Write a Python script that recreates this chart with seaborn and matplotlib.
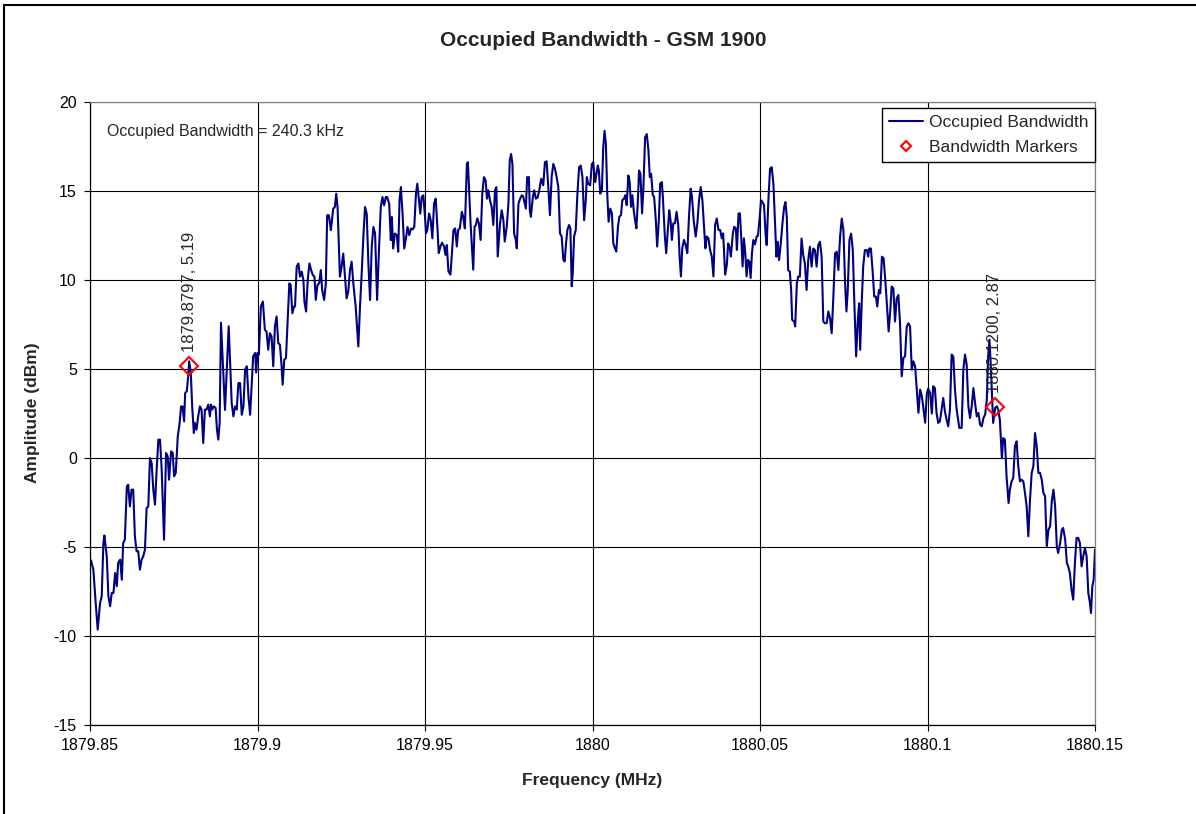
import matplotlib
matplotlib.use('Agg')
from matplotlib import pyplot as plt
from matplotlib.lines import Line2D
import numpy as np
import pandas as pd
import seaborn as sns

# trace (MHz, dBm)
freq = [
    1879.8500, 1879.8503, 1879.8510, 1879.8517, 1879.8523, 1879.8530, 1879.8535, 1879.8540, 1879.8543, 1879.8550,
    1879.8555, 1879.8560, 1879.8565, 1879.8570, 1879.8575, 1879.8580, 1879.8584, 1879.8590, 1879.8595, 1879.8599,
    1879.8604, 1879.8610, 1879.8614, 1879.8619, 1879.8624, 1879.8629, 1879.8634, 1879.8639, 1879.8644, 1879.8649,
    1879.8654, 1879.8659, 1879.8664, 1879.8669, 1879.8674, 1879.8679, 1879.8684, 1879.8689, 1879.8694, 1879.8699,
    1879.8704, 1879.8709, 1879.8714, 1879.8721, 1879.8727, 1879.8732, 1879.8736, 1879.8742, 1879.8747, 1879.8751,
    1879.8756, 1879.8762, 1879.8767, 1879.8772, 1879.8776, 1879.8781, 1879.8784, 1879.8789, 1879.8793, 1879.8796,
    1879.8801, 1879.8805, 1879.8810, 1879.8813, 1879.8818, 1879.8823, 1879.8828, 1879.8833, 1879.8838, 1879.8843,
    1879.8848, 1879.8853, 1879.8858, 1879.8861, 1879.8865, 1879.8869, 1879.8875, 1879.8879, 1879.8883, 1879.8887,
    1879.8891, 1879.8903, 1879.8914, 1879.8923, 1879.8928, 1879.8933, 1879.8938, 1879.8943, 1879.8948, 1879.8953,
    1879.8958, 1879.8963, 1879.8968, 1879.8973, 1879.8978, 1879.8983, 1879.8987, 1879.8993, 1879.8996, 1879.9000,
    1879.9004, 1879.9010, 1879.9016, 1879.9022, 1879.9027, 1879.9032, 1879.9037, 1879.9042, 1879.9047, 1879.9052,
    1879.9057, 1879.9062, 1879.9067, 1879.9072, 1879.9075, 1879.9080, 1879.9085, 1879.9090, 1879.9095, 1879.9099,
    1879.9104, 1879.9109, 1879.9112, 1879.9117, 1879.9122, 1879.9127, 1879.9132, 1879.9137, 1879.9140, 1879.9145,
    1879.9150, 1879.9155, 1879.9160, 1879.9165, 1879.9170, 1879.9174, 1879.9179, 1879.9184, 1879.9189, 1879.9193,
    1879.9199, 1879.9204, 1879.9208, 1879.9213, 1879.9219, 1879.9226, 1879.9231, 1879.9235, 1879.9239, 1879.9246,
    1879.9251, 1879.9256, 1879.9261, 1879.9266, 1879.9271, 1879.9276, 1879.9281, 1879.9286, 1879.9293, 1879.9301,
    1879.9306, 1879.9311, 1879.9316, 1879.9321, 1879.9326, 1879.9331, 1879.9336, 1879.9341, 1879.9346, 1879.9351,
    1879.9357, 1879.9363, 1879.9368, 1879.9373, 1879.9378, 1879.9383, 1879.9387, 1879.9393, 1879.9398, 1879.9401,
    1879.9405, 1879.9410, 1879.9416, 1879.9420, 1879.9424, 1879.9428, 1879.9433, 1879.9438, 1879.9443, 1879.9448,
    1879.9453, 1879.9458, 1879.9463, 1879.9468, 1879.9473, 1879.9477, 1879.9482, 1879.9486, 1879.9490, 1879.9495,
    1879.9500, 1879.9503, 1879.9507, 1879.9512, 1879.9517, 1879.9522, 1879.9527, 1879.9532, 1879.9537, 1879.9541,
    1879.9546, 1879.9551, 1879.9557, 1879.9561, 1879.9565, 1879.9570, 1879.9576, 1879.9581, 1879.9585, 1879.9590,
    1879.9595, 1879.9599, 1879.9604, 1879.9610, 1879.9614, 1879.9619, 1879.9625, 1879.9628, 1879.9632, 1879.9636,
    1879.9640, 1879.9644, 1879.9648, 1879.9652, 1879.9656, 1879.9661, 1879.9666, 1879.9671, 1879.9676, 1879.9681,
    1879.9685, 1879.9689, 1879.9694, 1879.9699, 1879.9704, 1879.9709, 1879.9713, 1879.9717, 1879.9724, 1879.9729,
    1879.9734, 1879.9738, 1879.9744, 1879.9749, 1879.9753, 1879.9757, 1879.9761, 1879.9766, 1879.9771, 1879.9774,
    1879.9779, 1879.9784, 1879.9789, 1879.9793, 1879.9801, 1879.9805, 1879.9810, 1879.9813, 1879.9816, 1879.9822,
    1879.9826, 1879.9831, 1879.9836, 1879.9841, 1879.9847, 1879.9853, 1879.9858, 1879.9863, 1879.9868, 1879.9873,
    1879.9878, 1879.9883, 1879.9888, 1879.9893, 1879.9898, 1879.9903, 1879.9908, 1879.9913, 1879.9917, 1879.9921,
    1879.9925, 1879.9930, 1879.9934, 1879.9938, 1879.9941, 1879.9945, 1879.9950, 1879.9955, 1879.9960, 1879.9965,
    1879.9970, 1879.9975, 1879.9980, 1879.9983, 1879.9987, 1879.9993, 1879.9998, 1880.0002, 1880.0008, 1880.0011,
    1880.0016, 1880.0019, 1880.0023, 1880.0028, 1880.0032, 1880.0036, 1880.0040, 1880.0044, 1880.0048, 1880.0053,
    1880.0058, 1880.0062, 1880.0067, 1880.0071, 1880.0076, 1880.0080, 1880.0085, 1880.0089, 1880.0094, 1880.0098,
    1880.0102, 1880.0107, 1880.0111, 1880.0115, 1880.0119, 1880.0123, 1880.0127, 1880.0131, 1880.0135, 1880.0139,
    1880.0143, 1880.0148, 1880.0152, 1880.0157, 1880.0162, 1880.0167, 1880.0171, 1880.0175, 1880.0180, 1880.0184,
    1880.0189, 1880.0193, 1880.0198, 1880.0202, 1880.0207, 1880.0210, 1880.0216, 1880.0220, 1880.0225, 1880.0229,
    1880.0233, 1880.0237, 1880.0241, 1880.0246, 1880.0251, 1880.0256, 1880.0260, 1880.0264, 1880.0268, 1880.0273,
    1880.0278, 1880.0283, 1880.0288, 1880.0293, 1880.0297, 1880.0302, 1880.0308, 1880.0313, 1880.0318, 1880.0323,
    1880.0328, 1880.0333, 1880.0337, 1880.0341, 1880.0346, 1880.0351, 1880.0356, 1880.0361, 1880.0366, 1880.0371,
    1880.0376, 1880.0381, 1880.0386, 1880.0390, 1880.0396, 1880.0401, 1880.0405, 1880.0410, 1880.0413, 1880.0419,
    1880.0423, 1880.0428, 1880.0431, 1880.0436, 1880.0440, 1880.0445, 1880.0448, 1880.0452, 1880.0456, 1880.0460,
    1880.0464, 1880.0468, 1880.0472, 1880.0476, 1880.0480, 1880.0485, 1880.0490, 1880.0494, 1880.0499, 1880.0503,
    1880.0507, 1880.0512, 1880.0517, 1880.0520, 1880.0525, 1880.0530, 1880.0535, 1880.0540, 1880.0545, 1880.0549,
    1880.0553, 1880.0557, 1880.0562, 1880.0567, 1880.0572, 1880.0576, 1880.0580, 1880.0584, 1880.0589, 1880.0593,
    1880.0596, 1880.0602, 1880.0605, 1880.0610, 1880.0614, 1880.0619, 1880.0624, 1880.0629, 1880.0634, 1880.0639,
    1880.0644, 1880.0649, 1880.0654, 1880.0659, 1880.0664, 1880.0669, 1880.0674, 1880.0679, 1880.0684, 1880.0689,
    1880.0694, 1880.0699, 1880.0704, 1880.0709, 1880.0714, 1880.0719, 1880.0724, 1880.0729, 1880.0734, 1880.0739,
    1880.0744, 1880.0749, 1880.0754, 1880.0758, 1880.0762, 1880.0767, 1880.0772, 1880.0777, 1880.0782, 1880.0787,
    1880.0792, 1880.0796, 1880.0799, 1880.0804, 1880.0808, 1880.0813, 1880.0819, 1880.0823, 1880.0826, 1880.0831,
    1880.0836, 1880.0841, 1880.0846, 1880.0850, 1880.0855, 1880.0859, 1880.0864, 1880.0869, 1880.0874, 1880.0879,
    1880.0884, 1880.0889, 1880.0893, 1880.0898, 1880.0903, 1880.0908, 1880.0913, 1880.0918, 1880.0923, 1880.0928,
    1880.0933, 1880.0938, 1880.0943, 1880.0948, 1880.0953, 1880.0958, 1880.0963, 1880.0968, 1880.0973, 1880.0978,
    1880.0983, 1880.0987, 1880.0993, 1880.0998, 1880.1002, 1880.1008, 1880.1013, 1880.1017, 1880.1022, 1880.1027,
    1880.1032, 1880.1037, 1880.1042, 1880.1047, 1880.1052, 1880.1057, 1880.1062, 1880.1067, 1880.1072, 1880.1077,
    1880.1082, 1880.1087, 1880.1095, 1880.1102, 1880.1107, 1880.1112, 1880.1117, 1880.1122, 1880.1127, 1880.1132,
    1880.1137, 1880.1142, 1880.1147, 1880.1152, 1880.1157, 1880.1162, 1880.1167, 1880.1172, 1880.1177, 1880.1181,
    1880.1185, 1880.1189, 1880.1193, 1880.1196, 1880.1202, 1880.1207, 1880.1211, 1880.1216, 1880.1222, 1880.1226,
    1880.1231, 1880.1236, 1880.1242, 1880.1246, 1880.1251, 1880.1256, 1880.1261, 1880.1266, 1880.1271, 1880.1276,
    1880.1281, 1880.1286, 1880.1291, 1880.1296, 1880.1301, 1880.1306, 1880.1311, 1880.1316, 1880.1321, 1880.1326,
    1880.1331, 1880.1336, 1880.1341, 1880.1346, 1880.1351, 1880.1356, 1880.1361, 1880.1366, 1880.1371, 1880.1376,
    1880.1381, 1880.1386, 1880.1390, 1880.1396, 1880.1401, 1880.1405, 1880.1411, 1880.1416, 1880.1420, 1880.1425,
    1880.1430, 1880.1435, 1880.1440, 1880.1445, 1880.1450, 1880.1455, 1880.1460, 1880.1465, 1880.1470, 1880.1475,
    1880.1480, 1880.1485, 1880.1488, 1880.1492, 1880.1496, 1880.1500,
]
amplitude = [
    -5.71, -5.75, -6.27, -8.15, -9.64, -8.15, -7.77, -4.78, -4.35, -5.52,
    -7.77, -8.33, -7.58, -7.58, -6.46, -7.21, -5.90, -5.71, -6.84, -4.78,
    -4.59, -1.59, -1.50, -2.72, -1.78, -1.78, -4.40, -5.24, -5.24, -6.27,
    -5.71, -5.52, -5.15, -2.81, -2.72, 0.00, -0.28, -1.78, -2.62, -0.66,
    1.03, 1.03, -0.66, -4.59, 0.28, 0.09, -1.22, 0.37, 0.28, -1.03,
    -0.84, 1.22, 1.87, 2.90, 2.90, 2.06, 3.65, 3.75, 4.59, 5.43,
    4.78, 2.90, 1.40, 1.97, 1.59, 2.34, 2.90, 2.72, 0.84, 2.72,
    2.72, 3.00, 2.34, 3.00, 2.72, 2.90, 2.81, 1.59, 1.03, 1.97,
    7.60, 2.70, 7.40, 3.09, 2.34, 2.90, 2.72, 4.21, 4.21, 2.43,
    2.90, 4.96, 5.15, 3.46, 2.43, 4.21, 5.71, 5.90, 4.80, 5.90,
    5.80, 8.51, 8.79, 7.20, 7.10, 6.08, 7.01, 6.83, 5.15, 7.39,
    7.95, 6.46, 6.36, 5.15, 4.12, 5.52, 5.62, 7.76, 9.81, 9.72,
    8.13, 8.51, 8.51, 10.75, 10.93, 10.19, 10.47, 10.00, 8.79, 8.23,
    10.00, 10.93, 10.56, 10.28, 10.19, 8.88, 9.72, 9.81, 10.56, 9.44,
    8.88, 9.81, 13.64, 13.64, 12.80, 14.01, 14.10, 14.85, 14.10, 10.19,
    10.75, 11.49, 10.19, 8.97, 9.35, 10.56, 11.03, 9.81, 8.51, 6.27,
    8.51, 10.37, 12.43, 14.10, 13.73, 10.93, 8.88, 11.87, 12.98, 12.61,
    8.88, 11.87, 14.10, 14.66, 14.20, 14.66, 14.66, 14.29, 12.24, 13.54,
    11.77, 12.61, 12.52, 11.59, 14.48, 15.22, 13.73, 11.77, 12.33, 12.98,
    12.52, 12.89, 12.84, 12.98, 14.85, 15.41, 14.48, 13.73, 14.66, 14.76,
    13.54, 12.62, 12.81, 13.74, 13.36, 12.34, 14.29, 14.57, 12.99, 11.51,
    11.88, 12.10, 11.88, 11.41, 11.97, 10.48, 10.30, 11.69, 12.81, 12.90,
    11.88, 12.81, 12.90, 13.83, 13.55, 12.90, 16.52, 16.62, 14.85, 13.18,
    11.88, 10.58, 12.99, 13.09, 13.46, 13.18, 12.25, 14.85, 15.78, 15.59,
    14.57, 15.04, 14.48, 14.11, 13.09, 15.04, 15.22, 11.32, 13.18, 13.92,
    13.36, 12.16, 12.99, 14.29, 16.71, 17.08, 16.52, 12.62, 12.25, 11.78,
    14.29, 14.57, 14.76, 14.70, 14.01, 15.78, 15.78, 13.92, 13.55, 14.67,
    15.04, 14.57, 14.63, 15.04, 15.69, 15.32, 16.62, 16.67, 15.22, 13.64,
    15.78, 16.52, 16.25, 15.78, 15.22, 12.62, 12.44, 11.13, 11.04, 12.06,
    12.81, 13.09, 12.90, 9.65, 10.39, 12.44, 12.81, 14.85, 16.34, 16.43,
    15.78, 13.36, 14.48, 15.78, 15.41, 15.32, 16.50, 16.62, 15.50, 15.87,
    16.43, 16.15, 14.85, 15.04, 17.45, 18.38, 17.64, 14.85, 13.27, 14.01,
    13.74, 12.06, 11.78, 11.60, 12.99, 13.55, 13.64, 14.48, 14.57, 14.76,
    14.20, 15.87, 15.50, 14.11, 14.76, 13.92, 13.36, 12.90, 14.29, 16.15,
    15.97, 13.74, 15.22, 18.01, 18.20, 17.27, 15.78, 15.97, 14.76, 14.67,
    13.36, 11.88, 13.36, 15.41, 15.50, 14.67, 12.44, 11.51, 12.81, 13.92,
    13.36, 12.25, 13.18, 13.18, 13.83, 13.09, 11.32, 10.20, 11.78, 12.25,
    11.97, 11.51, 13.55, 15.13, 14.67, 13.36, 12.44, 13.18, 14.48, 15.22,
    14.48, 12.99, 11.78, 12.44, 12.34, 11.69, 11.32, 10.20, 13.09, 13.46,
    12.81, 12.81, 12.34, 12.62, 10.30, 10.86, 12.06, 11.78, 11.32, 12.62,
    12.99, 12.90, 11.69, 13.74, 13.74, 12.06, 10.76, 12.34, 11.51, 10.20,
    11.13, 11.04, 10.11, 11.51, 12.25, 12.00, 12.44, 12.50, 13.50, 14.48,
    14.40, 14.20, 12.50, 11.96, 14.48, 16.25, 16.34, 15.41, 13.17, 11.31,
    12.15, 11.12, 12.05, 13.17, 14.10, 14.38, 13.54, 10.56, 10.47, 9.44,
    7.76, 7.67, 7.39, 9.81, 10.19, 10.19, 12.33, 11.40, 10.93, 9.44,
    11.12, 11.87, 10.75, 11.77, 11.68, 10.75, 11.96, 12.15, 11.31, 7.67,
    7.57, 7.57, 8.23, 7.85, 7.01, 9.07, 11.49, 11.59, 10.56, 12.43,
    13.45, 12.80, 9.81, 8.23, 9.44, 12.24, 12.61, 11.68, 8.51, 5.71,
    7.76, 8.69, 6.08, 8.88, 10.75, 11.68, 11.68, 11.31, 11.77, 11.77,
    10.56, 9.07, 9.07, 8.51, 9.44, 9.25, 11.31, 11.21, 10.00, 8.51,
    7.11, 8.32, 9.63, 9.53, 7.67, 8.97, 9.16, 7.57, 4.59, 5.62,
    5.71, 7.39, 7.57, 7.39, 4.96, 5.43, 5.15, 3.84, 2.54, 3.84,
    3.47, 2.91, 1.98, 3.60, 3.90, 3.65, 2.50, 4.03, 3.93, 2.53,
    1.97, 2.06, 2.72, 3.37, 2.62, 2.15, 1.78, 2.72, 5.81, 5.71,
    3.84, 2.72, 1.69, 1.69, 4.96, 5.81, 5.24, 2.90, 2.25, 2.90,
    3.93, 3.09, 2.34, 2.53, 1.87, 1.78, 2.25, 2.43, 3.28, 5.71,
    6.65, 5.15, 3.28, 1.97, 2.81, 2.90, 2.72, 2.15, 0.00, 1.12,
    1.03, -1.03, -2.53, -1.78, -1.31, -1.12, 0.66, 0.94, -0.47, -1.31,
    -1.22, -1.31, -1.97, -2.72, -4.40, -2.34, -0.84, -0.47, 1.40, 0.66,
    -0.84, -0.84, -1.22, -1.97, -2.15, -4.96, -4.03, -3.84, -2.43, -1.78,
    -2.72, -4.96, -5.34, -4.78, -4.03, -3.93, -4.59, -5.90, -6.09, -6.46,
    -7.40, -7.96, -5.90, -4.49, -4.49, -4.78, -6.09, -5.52, -5.06, -5.52,
    -7.58, -8.15, -8.71, -7.21, -6.84, -5.15,
]

marker_freq = [1879.8797, 1880.1200]
marker_amp = [5.19, 2.87]
marker_labels = ['1879.8797, 5.19', '1880.1200, 2.87']

x_ticks = [1879.85, 1879.90, 1879.95, 1880.00, 1880.05, 1880.10, 1880.15]
x_tick_labels = ['1879.85', '1879.9', '1879.95', '1880', '1880.05', '1880.1', '1880.15']
y_ticks = [-15, -10, -5, 0, 5, 10, 15, 20]
y_tick_labels = ['-15', '-10', '-5', '0', '5', '10', '15', '20']

obw_note = 'Occupied Bandwidth = 240.3 kHz'

sns.set_style('white')
plt.rcParams['font.family'] = ['Liberation Sans', 'DejaVu Sans']

W, H = 1196, 814
trace = pd.DataFrame({'freq': freq, 'amp': amplitude})
marks = pd.DataFrame({'freq': marker_freq, 'amp': marker_amp})

fig = plt.figure(figsize=(W / 100, H / 100), dpi=100)
ax = fig.add_axes([90 / W, 1 - 725 / H, 1005 / W, 623 / H])

sns.lineplot(data=trace, x='freq', y='amp', ax=ax, color='#000080', lw=1.5,
             estimator=None, sort=False, label='Occupied Bandwidth')
sns.lineplot(data=marks, x='freq', y='amp', ax=ax, estimator=None, sort=False,
             marker='D', linestyle='', ms=9, mfc='none', mec='red', mew=1.5,
             label='Bandwidth Markers')

for fx, fy, txt in zip(marker_freq, marker_amp, marker_labels):
    ax.annotate(txt, (fx, fy), xytext=(0, 10), textcoords='offset points',
                rotation=90, ha='center', va='bottom', fontsize=12)

ax.text(0.017, 0.953, obw_note, transform=ax.transAxes, fontsize=11.5,
        ha='left', va='center')

ax.set_xlim(1879.85, 1880.15)
ax.set_ylim(-15, 20)
ax.set_xticks(x_ticks)
ax.set_xticklabels(x_tick_labels)
ax.set_yticks(y_ticks)
ax.set_yticklabels(y_tick_labels)
ax.set_xlabel('')
ax.set_ylabel('')
ax.grid(True, color='black', lw=0.8)
ax.tick_params(direction='out', length=4.5, width=0.8, pad=5, labelsize=11.5,
               colors='black', left=True, bottom=True)

for side in ['left', 'bottom']:
    ax.spines[side].set_color('black')
    ax.spines[side].set_linewidth(0.9)
for side in ['top', 'right']:
    ax.spines[side].set_color('#808080')
    ax.spines[side].set_linewidth(0.9)

leg = ax.legend(loc='upper right', bbox_to_anchor=(1.0, 1 - 6 / 623), fontsize=12.5,
                frameon=True, fancybox=False, framealpha=1, edgecolor='black',
                borderaxespad=0, handlelength=2.0, borderpad=0.4, labelspacing=0.55,
                handletextpad=0.3, markerscale=0.6)
leg.get_frame().set_linewidth(1.0)

fig.text(603 / W, 1 - 40 / H, 'Occupied Bandwidth - GSM 1900', fontsize=15,
         fontweight='bold', ha='center', va='center')
fig.text(592 / W, 1 - 781 / H, 'Frequency (MHz)', fontsize=12.5,
         fontweight='bold', ha='center', va='center')
fig.text(33 / W, 1 - 413 / H, 'Amplitude (dBm)', fontsize=12.5,
         fontweight='bold', ha='center', va='center', rotation=90)

# outer chart border (only top and left fall inside the image)
fig.add_artist(Line2D([4 / W, 4 / W], [0, 1 - 5 / H], transform=fig.transFigure,
                      color='black', lw=1.5))
fig.add_artist(Line2D([4 / W, 1], [1 - 5 / H, 1 - 5 / H], transform=fig.transFigure,
                      color='black', lw=1.5))

plt.savefig('out.png', dpi=100)
